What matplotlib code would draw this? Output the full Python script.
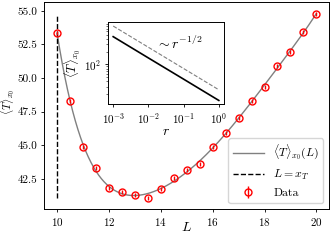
import matplotlib
matplotlib.use("Agg")
import matplotlib.pyplot as plt
import numpy as np

plt.rcParams['font.family'] = 'serif'
plt.rcParams['font.serif'] = ['cmr10']
plt.rcParams['mathtext.fontset'] = 'cm'
plt.rcParams['axes.formatter.use_mathtext'] = True
plt.rcParams['axes.unicode_minus'] = False

# main data
L = [10, 10.5, 11, 11.5, 12, 12.5, 13, 13.5, 14, 14.5, 15,
     15.5, 16, 16.5, 17, 17.5, 18, 18.5, 19, 19.5, 20]
T = [53.34, 48.31, 44.89, 43.27, 41.85, 41.55, 41.28, 41.10, 41.73, 42.55, 43.15,
     43.57, 44.87, 45.88, 47.0, 48.28, 49.33, 50.93, 51.92, 53.46, 54.78]
T_err = [0.15] * len(L)
x_T = 10

# inset data
r = [1e-3, 1e-2, 1e-1, 1e0]
T_r = [450, 142, 45, 14.2]
T_ref = [800, 253, 80, 25.3]

fig = plt.figure(figsize=(3.32, 2.4), dpi=100)
ax = fig.add_axes([0.133, 0.129, 0.859, 0.861])

# fit curve through the data
coef = np.polyfit(L, T, 6)
Lf = np.linspace(min(L), max(L), 300)
ax.plot(Lf, np.polyval(coef, Lf), color='gray', lw=1, label=r'$\langle T\rangle_{x_0}(L)$')
ax.plot([x_T, x_T], [min(T), max(T)], 'k--', lw=1, label=r'$L = x_T$')
ax.errorbar(L, T, yerr=T_err, fmt='o', color='red', mfc='none', ms=5, mew=1,
            elinewidth=1, label='Data')

ax.set_xticks([10, 12, 14, 16, 18, 20])
ax.set_yticks([42.5, 45.0, 47.5, 50.0, 52.5, 55.0])
ax.set_yticklabels(['42.5', '45.0', '47.5', '50.0', '52.5', '55.0'])
ax.tick_params(labelsize=8, length=2.5, width=0.6, pad=2.5)
ax.set_xlabel(r'$L$', fontsize=10)
ax.xaxis.set_label_coords(0.5, -0.06)
ax.set_ylabel(r'$\langle T\rangle_{x_0}$', fontsize=8)
ax.yaxis.set_label_coords(-0.095, 0.52)
for s in ax.spines.values():
    s.set_linewidth(0.7)
ax.legend(loc='lower right', fontsize=8.5, handlelength=2.6)

# inset
axin = fig.add_axes([0.325, 0.566, 0.35, 0.341])
axin.loglog(r, T_r, color='black', lw=1.2)
axin.loglog(r, T_ref, color='gray', ls='--', lw=0.8)
axin.text(0.41, 0.68, r'$\sim r^{-1/2}$', transform=axin.transAxes, fontsize=10)
axin.set_xticks([1e-3, 1e-2, 1e-1, 1e0])
axin.tick_params(labelsize=8, length=2.5, width=0.6, pad=2.5)
axin.tick_params(which='minor', length=1.5, width=0.4)
axin.set_xlabel(r'$r$', fontsize=10, labelpad=0)
axin.set_ylabel(r'$\langle T\rangle_{x_0}$', fontsize=9, labelpad=1)
for s in axin.spines.values():
    s.set_linewidth(0.7)

fig.savefig('out.png', dpi=100)
